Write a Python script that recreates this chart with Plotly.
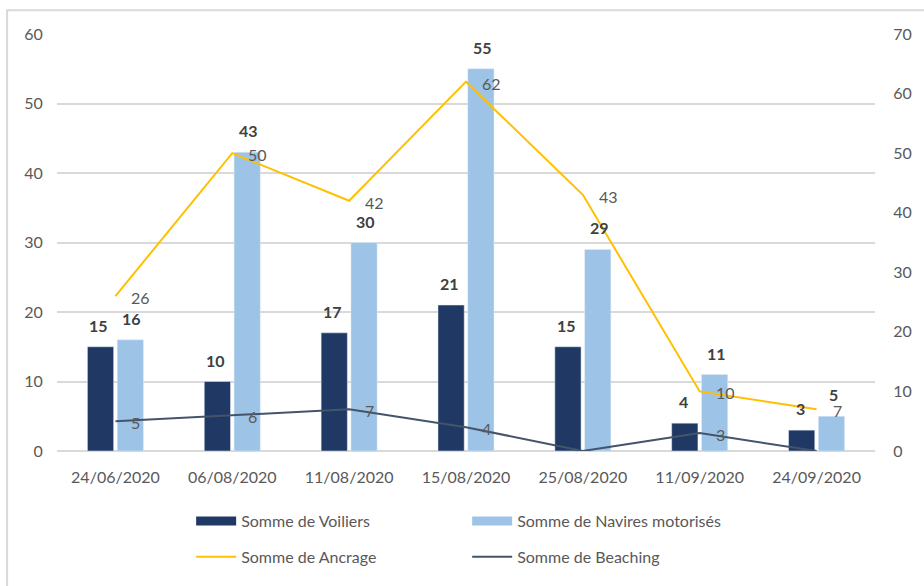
import plotly.graph_objects as go

dates = ["24/06/2020", "06/08/2020", "11/08/2020", "15/08/2020", "25/08/2020", "11/09/2020", "24/09/2020"]
voiliers = [15, 10, 17, 21, 15, 4, 3]
navires = [16, 43, 30, 55, 29, 11, 5]
ancrage = [26, 50, 42, 62, 43, 10, 7]
beaching = [5, 6, 7, 4, 0, 3, 0]

left_ticks = [0, 10, 20, 30, 40, 50, 60]
right_ticks = [0, 10, 20, 30, 40, 50, 60, 70]

FONT = "Lato, Open Sans, sans-serif"
GREY = "#595959"
DARK = "#404040"
C_VOIL = "#1F3864"
C_NAV = "#9DC3E6"

fig = go.Figure()
fig.add_trace(go.Bar(
    x=dates, y=voiliers, name="Somme de Voiliers",
    marker=dict(color=C_VOIL), yaxis="y", showlegend=False, legendgroup="voil",
))
fig.add_trace(go.Bar(
    x=dates, y=navires, name="Somme de Navires motorisés",
    marker=dict(color=C_NAV), yaxis="y", showlegend=False, legendgroup="nav",
))
fig.add_trace(go.Scatter(
    x=dates, y=ancrage, name="Somme de Ancrage",
    mode="lines", line=dict(color="#FFC000", width=2),
    yaxis="y2", legend="legend2",
))
fig.add_trace(go.Scatter(
    x=dates, y=beaching, name="Somme de Beaching",
    mode="lines", line=dict(color="#44546A", width=2),
    yaxis="y2", legend="legend2",
))
# legend entries for the bars (wide rectangular keys as in the original)
fig.add_trace(go.Scatter(
    x=[None], y=[None], name="Somme de Voiliers", mode="lines",
    line=dict(color=C_VOIL, width=9), legendgroup="voil", legend="legend", hoverinfo="skip",
))
fig.add_trace(go.Scatter(
    x=[None], y=[None], name="Somme de Navires motorisés", mode="lines",
    line=dict(color=C_NAV, width=9), legendgroup="nav", legend="legend", hoverinfo="skip",
))

annotations = []
for d, v in zip(dates, voiliers):
    annotations.append(dict(x=d, y=v, xref="x", yref="y", text=str(v), showarrow=False,
                            xshift=-16.5, yshift=11, yanchor="bottom", borderpad=0,
                            font=dict(family=FONT, size=16, color=DARK, weight="bold")))
for d, v in zip(dates, navires):
    annotations.append(dict(x=d, y=v, xref="x", yref="y", text=str(v), showarrow=False,
                            xshift=16.5, yshift=11, yanchor="bottom", borderpad=0,
                            font=dict(family=FONT, size=16, color=DARK, weight="bold")))
for series in (ancrage, beaching):
    for d, v in zip(dates, series):
        if v:
            annotations.append(dict(x=d, y=v, xref="x", yref="y2", text=str(v), showarrow=False,
                                    xshift=15, yshift=-1.5, xanchor="left", yanchor="middle",
                                    borderpad=0,
                                    font=dict(family=FONT, size=16, color=GREY)))

legend_common = dict(
    orientation="h", xanchor="left", yanchor="middle",
    entrywidth=221, entrywidthmode="pixels",
    font=dict(family=FONT, size=16, color=GREY),
    traceorder="normal", itemwidth=40, bgcolor="rgba(0,0,0,0)",
)

fig.update_layout(
    width=924, height=586,
    margin=dict(l=57, r=46, t=34, b=134),
    paper_bgcolor="white", plot_bgcolor="white",
    font=dict(family=FONT, size=16, color=GREY),
    barmode="group", bargap=0.49, bargroupgap=0.12,
    xaxis=dict(
        type="category", showgrid=False, showline=False, zeroline=False,
        ticks="outside", ticklen=12, tickcolor="rgba(0,0,0,0)",
        tickfont=dict(family=FONT, size=16, color=GREY),
    ),
    yaxis=dict(
        range=[0, 60], tickvals=left_ticks, showgrid=True, gridcolor="#D9D9D9", gridwidth=2,
        zeroline=True, zerolinecolor="#D9D9D9", zerolinewidth=2, showline=False,
        ticks="outside", ticklen=10, tickcolor="rgba(0,0,0,0)",
        tickfont=dict(family=FONT, size=16, color=GREY),
    ),
    yaxis2=dict(
        range=[0, 70], tickvals=right_ticks, overlaying="y", side="right",
        showgrid=False, zeroline=False, showline=False,
        ticks="outside", ticklen=14, tickcolor="rgba(0,0,0,0)",
        tickfont=dict(family=FONT, size=16, color=GREY),
    ),
    showlegend=True,
    legend=dict(x=0.164, y=-0.168, **legend_common),
    legend2=dict(x=0.164, y=-0.254, **legend_common),
    annotations=annotations,
    shapes=[dict(
        type="rect", xref="paper", yref="paper",
        x0=-0.061, x1=1.2, y0=-0.5, y1=1.057,
        line=dict(color="#D9D9D9", width=2), fillcolor="rgba(0,0,0,0)", layer="below",
    )],
)

fig.write_html("out.html", config={"displayModeBar": False},
               post_script="document.body.style.margin='0';document.body.style.padding='0';")
